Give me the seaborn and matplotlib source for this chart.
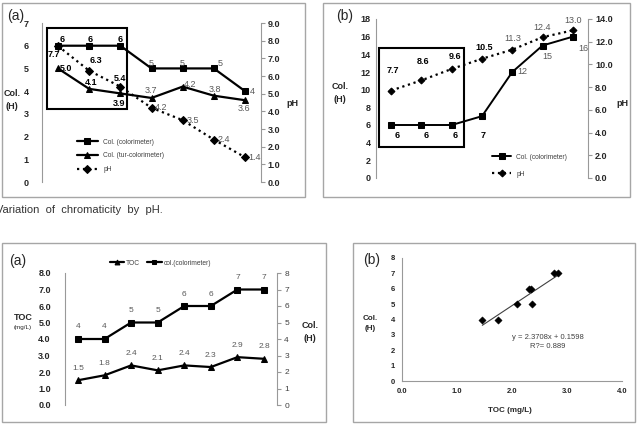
import numpy as np
import matplotlib
matplotlib.use("Agg")
import matplotlib.pyplot as plt
from matplotlib.patches import Rectangle
from matplotlib.ticker import FormatStrFormatter
import seaborn as sns

sns.set_style("white")
plt.rcParams['font.family'] = ['Liberation Sans', 'DejaVu Sans']

# top (a): colour vs pH, acid side
ph_acid = [7.7, 6.3, 5.4, 4.2, 3.5, 2.4, 1.4]
col_acid = [6, 6, 6, 5, 5, 5, 4]
tur_acid = [5.0, 4.1, 3.9, 3.7, 4.2, 3.8, 3.6]

# top (b): alkali side
ph_base = [7.7, 8.6, 9.6, 10.5, 11.3, 12.4, 13.0]
col_base = [6, 6, 6, 7, 12, 15, 16]

# bottom (a): TOC and colour per sample
toc = [1.5, 1.8, 2.4, 2.1, 2.4, 2.3, 2.9, 2.8]
col_toc = [4, 4, 5, 5, 6, 6, 7, 7]

# bottom (b): TOC vs colour scatter + trend
toc_sc = [1.46, 1.75, 2.09, 2.37, 2.30, 2.35, 2.77, 2.84]
col_sc = [4, 4, 5, 5, 6, 6, 7, 7]
slope, intercept, r2 = 2.3708, 0.1598, 0.889

W, H = 637, 429
fig = plt.figure(figsize=(W / 100, H / 100), dpi=100)
GREY = '#999999'
LBL = '#595959'


def px_axes(x0, y0, x1, y1):
    return fig.add_axes([x0 / W, 1 - y1 / H, (x1 - x0) / W, (y1 - y0) / H])


def border(x0, y0, x1, y1):
    fig.add_artist(Rectangle((x0 / W, 1 - y1 / H), (x1 - x0) / W, (y1 - y0) / H,
                             transform=fig.transFigure, fill=False, ec='#a6a6a6', lw=1))


def ftext(x, y, s, **kw):
    kw.setdefault('ha', 'center')
    kw.setdefault('va', 'center')
    fig.text(x / W, 1 - y / H, s, **kw)


def labels(ax, ys, fmt, offs, nbold, size=6.5):
    for i, y in enumerate(ys):
        dx, dy = offs[i]
        bold = i < nbold
        ax.annotate(fmt.format(y), (i, y), xytext=(dx, dy), textcoords='offset pixels',
                    ha='center', va='center', fontsize=size,
                    color='black' if bold else LBL,
                    fontweight='bold' if bold else 'normal')


def style_pair(ax, axr):
    for a in (ax, axr):
        for s in a.spines.values():
            s.set_visible(False)
        a.set_xticks([])
        a.set_xlabel('')
        a.set_ylabel('')
    ax.spines['left'].set_visible(True)
    ax.spines['left'].set_color(GREY)
    axr.spines['right'].set_visible(True)
    axr.spines['right'].set_color(GREY)
    axr.tick_params(axis='y', length=3, color=GREY, direction='out', pad=2)


# ---------- top left (a) ----------
border(2, 3, 305, 197)
ax1 = px_axes(42.4, 23, 260.6, 182)
ax1b = ax1.twinx()
x7 = np.arange(7)
sns.lineplot(x=x7, y=col_acid, ax=ax1, color='black', marker='s', markersize=4,
             lw=1.6, markeredgecolor='black', label='Col. (colorimeter)')
sns.lineplot(x=x7, y=tur_acid, ax=ax1, color='black', marker='^', markersize=4.5,
             lw=1.6, markeredgecolor='black', label='Col. (tur-colorimeter)')
sns.lineplot(x=x7, y=ph_acid, ax=ax1b, color='black', marker='D', markersize=4,
             lw=1.6, linestyle=':', markeredgecolor='black', label='pH')
ax1.set_xlim(-0.5, 6.5)
ax1.set_ylim(0, 7)
ax1b.set_ylim(0, 9)
ax1.set_yticks(range(0, 8))
ax1b.set_yticks(range(0, 10))
ax1b.yaxis.set_major_formatter(FormatStrFormatter('%.1f'))
style_pair(ax1, ax1b)
ax1.tick_params(axis='y', length=0, pad=10)
for t in ax1.get_yticklabels() + ax1b.get_yticklabels():
    t.set_fontsize(6.5)
    t.set_fontweight('bold')
ax1.add_patch(Rectangle((-0.34, 3.21), 2.54, 3.56, fill=False, ec='black', lw=1.5, zorder=5))
labels(ax1, col_acid, '{:d}', [(4, 6), (1, 6), (0, 6), (0, 5), (-1, 5), (6, 5), (7, 0)], 3)
labels(ax1, tur_acid, '{:.1f}', [(8, 0), (2, 6), (-1, -10), (-1, 7), (7, 2), (1, 6), (-1, -8)], 3)
labels(ax1b, ph_acid, '{:.1f}', [(-4, -9), (7, 10), (0, 8), (10, 0), (10, 0), (10, 0), (10, 0)], 3)
h1, l1 = ax1.get_legend_handles_labels()
h2, l2 = ax1b.get_legend_handles_labels()
ax1.get_legend().remove()
ax1b.get_legend().remove()
leg = ax1b.legend(h1 + h2, l1 + l2, loc='upper left', bbox_to_anchor=(0.13, 0.31),
                  frameon=False, fontsize=4.8, handlelength=3.2, labelspacing=1.0)
for t in leg.get_texts():
    t.set_color('#404040')
ftext(16, 16, '(a)', fontsize=10)
ftext(12, 100, 'Col.\n(H)', fontsize=6.5, fontweight='bold', linespacing=1.6)
ftext(292, 103, 'pH', fontsize=6.5, fontweight='bold')

# ---------- top right (b) ----------
border(323, 3, 630, 197)
ax2 = px_axes(376, 19, 588, 178)
ax2b = ax2.twinx()
sns.lineplot(x=x7, y=col_base, ax=ax2, color='black', marker='s', markersize=4,
             lw=1.4, markeredgecolor='black', label='Col. (colorimeter)')
sns.lineplot(x=x7, y=ph_base, ax=ax2b, color='black', marker='D', markersize=3.5,
             lw=1.6, linestyle=':', markeredgecolor='black', label='pH')
ax2.set_xlim(-0.5, 6.5)
ax2.set_ylim(0, 18)
ax2b.set_ylim(0, 14)
ax2.set_yticks(range(0, 19, 2))
ax2b.set_yticks(range(0, 15, 2))
ax2b.yaxis.set_major_formatter(FormatStrFormatter('%.1f'))
style_pair(ax2, ax2b)
ax2.tick_params(axis='y', length=0, pad=4)
for t in ax2.get_yticklabels() + ax2b.get_yticklabels():
    t.set_fontsize(6.5)
    t.set_fontweight('bold')
ax2.add_patch(Rectangle((-0.40, 3.5), 2.81, 11.2, fill=False, ec='black', lw=1.5, zorder=5))
labels(ax2, col_base, '{:d}', [(6, -11), (5, -11), (3, -11), (1, -19), (10, 0), (5, -11), (11, -12)], 4)
labels(ax2b, ph_base, '{:.1f}', [(2, 20), (2, 19), (3, 12), (2, 11), (0, 11), (0, 10), (0, 10)], 4)
h1, l1 = ax2.get_legend_handles_labels()
h2, l2 = ax2b.get_legend_handles_labels()
ax2.get_legend().remove()
ax2b.get_legend().remove()
leg = ax2b.legend(h1 + h2, l1 + l2, loc='upper left', bbox_to_anchor=(0.52, 0.19),
                  frameon=False, fontsize=4.8, handlelength=2.8, labelspacing=1.5)
for t in leg.get_texts():
    t.set_color('#404040')
ftext(345, 16, '(b)', fontsize=10)
ftext(340, 93, 'Col.\n(H)', fontsize=6.5, fontweight='bold', linespacing=1.6)
ftext(622, 104, 'pH', fontsize=6.5, fontweight='bold')

# caption fragment
ftext(-4, 210, 'Variation  of  chromaticity  by  pH.', fontsize=8, ha='left', color='#333333')

# ---------- bottom left (a) ----------
border(2, 243, 326, 422)
ax3 = px_axes(64.7, 273, 277.3, 405)
ax3b = ax3.twinx()
x8 = np.arange(8)
sns.lineplot(x=x8, y=toc, ax=ax3, color='black', marker='^', markersize=5,
             lw=1.6, markeredgecolor='black', label='TOC')
sns.lineplot(x=x8, y=col_toc, ax=ax3b, color='black', marker='s', markersize=5,
             lw=1.6, markeredgecolor='black', label='col.(colorimeter)')
ax3.set_xlim(-0.5, 7.5)
ax3.set_ylim(0, 8)
ax3b.set_ylim(0, 8)
ax3.set_yticks(range(0, 9))
ax3b.set_yticks(range(0, 9))
ax3.yaxis.set_major_formatter(FormatStrFormatter('%.1f'))
style_pair(ax3, ax3b)
ax3.tick_params(axis='y', length=0, pad=10)
for t in ax3.get_yticklabels():
    t.set_fontsize(6.5)
    t.set_fontweight('bold')
for t in ax3b.get_yticklabels():
    t.set_fontsize(6)
    t.set_color('#404040')
labels(ax3, toc, '{:.1f}', [(0, 12)] * 8, 0, size=6)
labels(ax3b, col_toc, '{:d}', [(0, 12)] * 8, 0, size=6)
h1, l1 = ax3.get_legend_handles_labels()
h2, l2 = ax3b.get_legend_handles_labels()
ax3.get_legend().remove()
ax3b.get_legend().remove()
leg = ax3b.legend(h1 + h2, l1 + l2, loc='center', bbox_to_anchor=(0.45, 1.075), ncol=2,
                  frameon=False, fontsize=4.8, handlelength=2.2, columnspacing=1.0,
                  handletextpad=0.3, markerscale=0.7)
for t in leg.get_texts():
    t.set_color('#404040')
ftext(18, 261, '(a)', fontsize=10)
ftext(23, 317, 'TOC', fontsize=6.5, fontweight='bold')
ftext(23, 328, '(mg/L)', fontsize=4.5)
ftext(310, 332, 'Col.\n(H)', fontsize=6.5, fontweight='bold', linespacing=1.6)

# ---------- bottom right (b) ----------
border(353, 243, 635, 422)
ax4 = px_axes(402, 258, 622, 381)
sns.scatterplot(x=toc_sc, y=col_sc, ax=ax4, marker='D', s=14, color='black',
                edgecolor='black', zorder=3)
xfit = np.array([min(toc_sc), max(toc_sc)])
ax4.plot(xfit, slope * xfit + intercept, color='#404040', lw=0.8)
ax4.set_xlim(0, 4)
ax4.set_ylim(0, 8)
ax4.set_xticks(np.arange(0, 4.1, 1.0))
ax4.set_yticks(range(0, 9))
ax4.xaxis.set_major_formatter(FormatStrFormatter('%.1f'))
for s in ('top', 'right'):
    ax4.spines[s].set_visible(False)
for s in ('left', 'bottom'):
    ax4.spines[s].set_color(GREY)
ax4.tick_params(axis='both', length=3, color=GREY, direction='out', pad=2, labelsize=5.5)
for t in ax4.get_xticklabels() + ax4.get_yticklabels():
    t.set_fontweight('bold')
ax4.text(2.65, 2.85, 'y = 2.3708x + 0.1598', fontsize=5.5, ha='center', va='center', color='#404040')
ax4.text(2.65, 2.25, 'R?= {:.3f}'.format(r2), fontsize=5.5, ha='center', va='center', color='#404040')
ftext(372, 260, '(b)', fontsize=10)
ftext(370, 323, 'Col.\n(H)', fontsize=5.8, fontweight='bold', linespacing=1.6)
ftext(510, 411, 'TOC (mg/L)', fontsize=5.8, fontweight='bold')

fig.savefig('out.png', dpi=100)
